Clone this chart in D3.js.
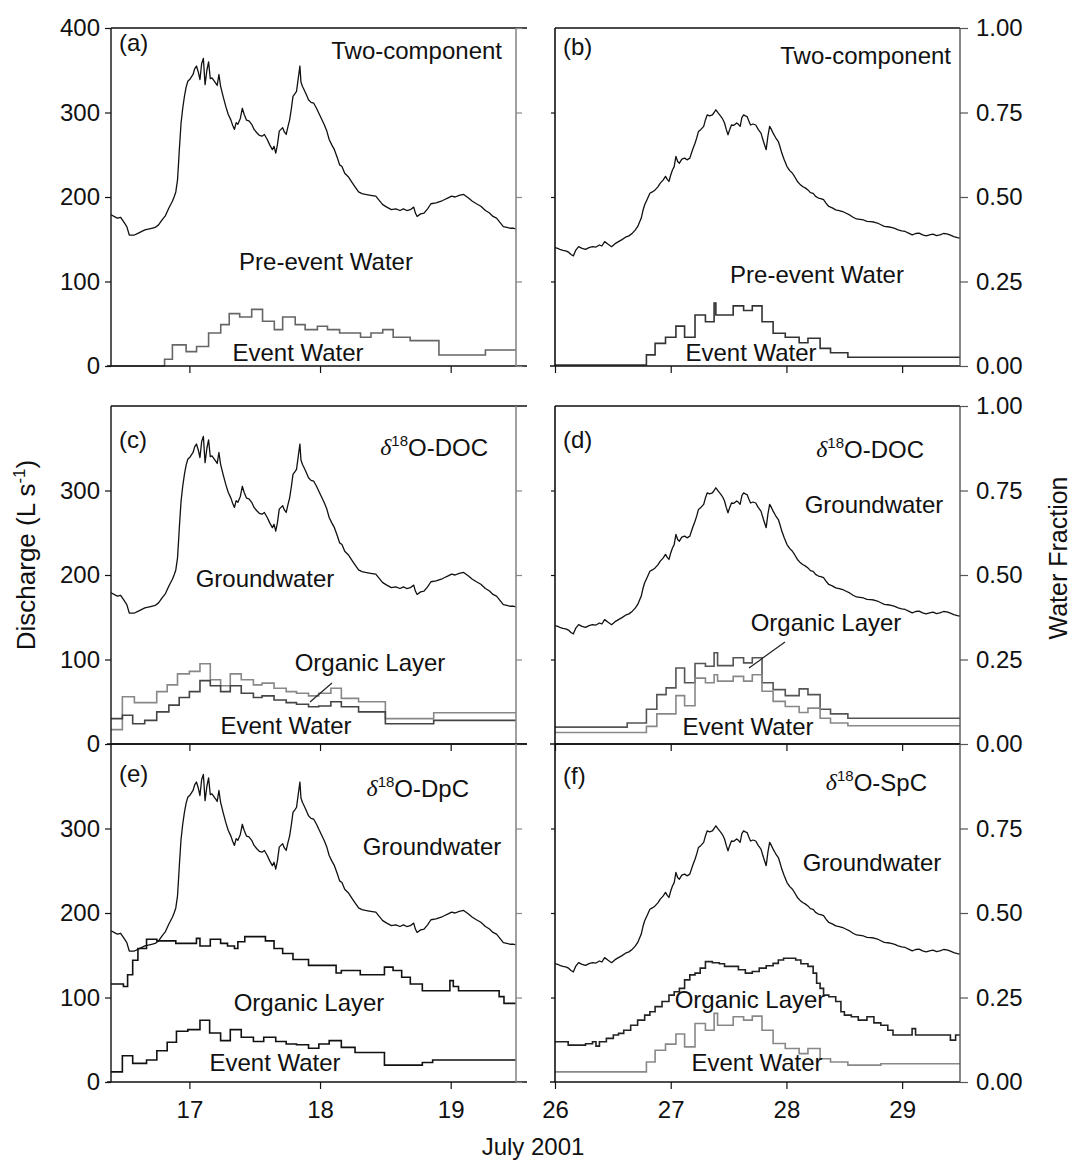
<!DOCTYPE html>
<html>
<head>
<meta charset="utf-8">
<script src="https://cdn.jsdelivr.net/npm/d3@7"></script>
<style>
  html, body { margin: 0; padding: 0; background: #fff; }
  svg { display: block; }
</style>
</head>
<body>
<svg id="fig" width="1074" height="1160"></svg>
<script>
// ---------------------------------------------------------------
// Hydrograph separations, July 2001 storm events
// ---------------------------------------------------------------

// Day-of-month ticks for the two events
const ticksJul17 = [17, 18, 19];
const ticksJul26 = [26, 27, 28, 29];
const dischargeTicks = [0, 100, 200, 300, 400];
const fractionTicks = [0, 0.25, 0.5, 0.75, 1];

// Event 1 (16-19 July): pre-event / groundwater discharge, L s-1  [day, value]
const groundwaterQ = [
  [16.400,179],[16.448,175],[16.474,176],[16.500,170],[16.521,165],[16.540,155],[16.579,155],[16.606,157],
  [16.632,159],[16.659,161],[16.685,162],[16.711,163],[16.738,164],[16.764,167],[16.791,173],[16.817,178],
  [16.843,187],[16.870,195],[16.883,200],[16.896,206],[16.909,220],[16.917,240],[16.923,256],[16.936,287],
  [16.949,305],[16.962,319],[16.975,330],[16.988,337],[17.007,340],[17.028,345],[17.041,352],[17.054,355],
  [17.068,348],[17.081,339],[17.094,358],[17.107,364],[17.120,333],[17.134,350],[17.147,360],[17.160,340],
  [17.173,341],[17.200,335],[17.213,332],[17.226,345],[17.239,331],[17.260,318],[17.279,307],[17.297,298],
  [17.318,291],[17.331,285],[17.345,280],[17.358,288],[17.371,286],[17.390,293],[17.405,305],[17.419,298],
  [17.437,291],[17.456,290],[17.477,286],[17.495,280],[17.516,276],[17.535,273],[17.556,272],[17.574,274],
  [17.596,268],[17.614,262],[17.635,256],[17.648,260],[17.661,252],[17.674,262],[17.688,278],[17.701,280],
  [17.714,282],[17.727,277],[17.741,274],[17.754,283],[17.767,291],[17.781,305],[17.793,319],[17.807,322],
  [17.820,325],[17.833,340],[17.846,355],[17.854,336],[17.865,331],[17.878,327],[17.893,322],[17.912,315],
  [17.931,312],[17.952,311],[17.973,305],[17.991,299],[18.010,293],[18.031,286],[18.052,278],[18.070,268],
  [18.089,262],[18.110,256],[18.131,247],[18.150,238],[18.168,236],[18.189,228],[18.216,224],[18.242,218],
  [18.268,212],[18.295,206],[18.321,204],[18.348,203],[18.387,202],[18.427,201],[18.453,196],[18.480,191],
  [18.511,188],[18.546,185],[18.580,186],[18.612,184],[18.638,186],[18.664,184],[18.691,185],[18.717,188],
  [18.730,181],[18.743,177],[18.770,180],[18.796,181],[18.823,186],[18.849,192],[18.888,193],[18.928,195],
  [18.954,197],[18.981,199],[19.007,201],[19.034,200],[19.065,202],[19.099,203],[19.134,199],[19.166,195],
  [19.197,192],[19.231,189],[19.266,184],[19.297,181],[19.324,177],[19.351,175],[19.377,170],[19.403,165],
  [19.430,164],[19.456,163],[19.483,163],[19.500,162]
];

// Event 1 step series (start of interval, value)
const eventQ2c = [
  [16.40,0],[16.81,8],[16.87,25],[16.975,17],[17.055,23],[17.147,39],[17.24,49],[17.305,62],[17.385,58],
  [17.477,67],[17.56,53],[17.65,43],[17.714,58],[17.81,49],[17.886,43],[17.98,47],[18.057,43],[18.15,39],
  [18.31,34],[18.39,39],[18.48,43],[18.56,34],[18.69,30],[18.91,13],[19.266,19],[19.50,19]
];
const organicQdoc = [
  [16.40,17],[16.487,56],[16.579,49],[16.75,62],[16.83,70],[16.909,83],[17.0,86],[17.081,95],[17.16,76],
  [17.239,69],[17.313,83],[17.397,76],[17.49,70],[17.556,72],[17.648,66],[17.741,62],[17.82,60],[17.912,57],
  [17.99,60],[18.083,66],[18.163,54],[18.295,50],[18.50,30],[18.87,37],[19.50,37]
];
const eventQdoc = [
  [16.40,30],[16.487,34],[16.566,24],[16.658,28],[16.75,38],[16.843,46],[16.922,55],[17.0,62],[17.081,75],
  [17.16,69],[17.239,62],[17.313,69],[17.397,60],[17.49,55],[17.556,57],[17.648,52],[17.741,49],[17.82,47],
  [17.912,44],[17.99,45],[18.083,50],[18.163,44],[18.295,38],[18.50,24],[18.87,28],[19.50,28]
];
const organicQdpc = [
  [16.40,116],[16.495,113],[16.527,127],[16.566,144],[16.606,158],[16.672,169],[16.751,167],[16.896,164],
  [17.054,170],[17.081,161],[17.16,169],[17.239,164],[17.292,161],[17.345,158],[17.371,166],[17.424,172],
  [17.582,167],[17.648,158],[17.714,152],[17.793,145],[17.912,138],[18.123,129],[18.163,132],[18.308,127],
  [18.493,136],[18.559,132],[18.625,124],[18.691,116],[18.783,108],[18.994,120],[19.02,113],[19.06,108],
  [19.371,101],[19.408,93],[19.50,93]
];
const eventQdpc = [
  [16.40,12],[16.487,31],[16.566,22],[16.672,26],[16.751,37],[16.83,47],[16.901,60],[16.988,62],[17.081,73],
  [17.155,58],[17.239,49],[17.313,62],[17.397,53],[17.49,48],[17.569,53],[17.661,48],[17.741,45],[17.82,44],
  [17.912,40],[17.991,45],[18.07,49],[18.163,41],[18.268,35],[18.493,20],[18.783,23],[18.862,26],[19.50,26]
];

// Event 2 (26-29 July): groundwater fraction  [day, fraction]
const groundwaterFrac = [
  [26.000,0.350],[26.024,0.348],[26.048,0.344],[26.069,0.342],[26.099,0.340],[26.120,0.336],[26.138,0.330],
  [26.159,0.326],[26.180,0.343],[26.204,0.353],[26.234,0.348],[26.264,0.345],[26.294,0.350],[26.324,0.353],
  [26.354,0.352],[26.384,0.358],[26.405,0.355],[26.429,0.368],[26.459,0.360],[26.489,0.353],[26.519,0.362],
  [26.549,0.368],[26.579,0.374],[26.609,0.381],[26.639,0.385],[26.669,0.393],[26.693,0.402],[26.715,0.413],
  [26.730,0.425],[26.745,0.437],[26.760,0.460],[26.775,0.477],[26.799,0.495],[26.820,0.511],[26.841,0.515],
  [26.865,0.521],[26.889,0.530],[26.910,0.541],[26.934,0.550],[26.955,0.561],[26.970,0.552],[26.985,0.546],
  [27.000,0.565],[27.015,0.580],[27.030,0.590],[27.045,0.620],[27.060,0.605],[27.075,0.600],[27.096,0.612],
  [27.120,0.615],[27.141,0.610],[27.165,0.615],[27.189,0.640],[27.210,0.659],[27.225,0.675],[27.240,0.694],
  [27.261,0.700],[27.285,0.709],[27.300,0.728],[27.315,0.743],[27.336,0.740],[27.360,0.743],[27.375,0.750],
  [27.390,0.758],[27.411,0.748],[27.435,0.738],[27.450,0.730],[27.465,0.719],[27.480,0.700],[27.495,0.684],
  [27.510,0.700],[27.525,0.713],[27.546,0.712],[27.570,0.719],[27.585,0.715],[27.600,0.709],[27.615,0.735],
  [27.630,0.743],[27.645,0.740],[27.660,0.738],[27.675,0.725],[27.690,0.713],[27.711,0.716],[27.735,0.713],
  [27.756,0.700],[27.780,0.689],[27.801,0.665],[27.825,0.640],[27.840,0.680],[27.855,0.709],[27.870,0.700],
  [27.885,0.689],[27.906,0.676],[27.930,0.664],[27.945,0.648],[27.960,0.630],[27.981,0.610],[28.005,0.590],
  [28.029,0.578],[28.050,0.571],[28.071,0.560],[28.095,0.546],[28.116,0.538],[28.140,0.531],[28.162,0.527],
  [28.186,0.521],[28.207,0.513],[28.231,0.511],[28.252,0.502],[28.276,0.497],[28.297,0.495],[28.321,0.492],
  [28.342,0.482],[28.366,0.472],[28.396,0.468],[28.426,0.462],[28.456,0.460],[28.486,0.457],[28.516,0.452],
  [28.546,0.447],[28.576,0.440],[28.606,0.435],[28.636,0.434],[28.666,0.432],[28.696,0.428],[28.726,0.427],
  [28.756,0.426],[28.786,0.423],[28.816,0.418],[28.846,0.413],[28.876,0.412],[28.906,0.410],[28.936,0.407],
  [28.966,0.403],[28.996,0.400],[29.026,0.398],[29.056,0.393],[29.087,0.388],[29.117,0.392],[29.147,0.393],
  [29.177,0.388],[29.207,0.385],[29.237,0.388],[29.267,0.390],[29.297,0.386],[29.327,0.388],[29.357,0.392],
  [29.387,0.391],[29.417,0.387],[29.447,0.383],[29.477,0.380],[29.500,0.378]
];

// Event 2 step series (start of interval, fraction)
const eventFrac2c = [
  [26.0,0.003],[26.79,0.033],[26.865,0.067],[26.955,0.085],[27.045,0.118],[27.12,0.085],[27.21,0.151],
  [27.30,0.131],[27.375,0.186],[27.39,0.151],[27.54,0.178],[27.63,0.164],[27.705,0.178],[27.789,0.131],
  [27.885,0.097],[27.99,0.085],[28.11,0.069],[28.186,0.082],[28.291,0.052],[28.381,0.039],[28.531,0.026],
  [29.5,0.026]
];
const organicFracDoc = [
  [26.0,0.050],[26.624,0.062],[26.79,0.103],[26.88,0.146],[26.96,0.166],[27.045,0.225],[27.12,0.181],
  [27.21,0.238],[27.30,0.230],[27.375,0.270],[27.405,0.232],[27.54,0.255],[27.63,0.240],[27.705,0.255],
  [27.789,0.181],[27.885,0.161],[27.99,0.143],[28.11,0.163],[28.186,0.146],[28.291,0.103],[28.381,0.089],
  [28.531,0.076],[29.5,0.076]
];
const eventFracDoc = [
  [26.0,0.034],[26.79,0.052],[26.88,0.089],[27.045,0.143],[27.12,0.113],[27.21,0.195],[27.30,0.181],
  [27.375,0.205],[27.405,0.186],[27.54,0.200],[27.63,0.186],[27.705,0.205],[27.789,0.156],[27.885,0.126],
  [27.99,0.111],[28.11,0.093],[28.186,0.106],[28.291,0.076],[28.381,0.062],[28.531,0.054],[29.5,0.054]
];
const organicFracSpc = [
  [26.0,0.119],[26.084,0.119],[26.114,0.109],[26.204,0.109],[26.264,0.113],[26.324,0.119],[26.354,0.106],
  [26.384,0.119],[26.444,0.129],[26.504,0.139],[26.549,0.144],[26.594,0.153],[26.654,0.168],[26.714,0.183],
  [26.775,0.198],[26.82,0.208],[26.865,0.223],[26.925,0.238],[26.985,0.257],[27.03,0.267],[27.075,0.277],
  [27.12,0.302],[27.165,0.317],[27.21,0.322],[27.255,0.337],[27.30,0.356],[27.36,0.353],[27.42,0.350],
  [27.465,0.342],[27.525,0.342],[27.585,0.332],[27.645,0.322],[27.705,0.327],[27.765,0.337],[27.825,0.344],
  [27.885,0.351],[27.93,0.361],[27.975,0.366],[28.035,0.366],[28.08,0.361],[28.125,0.350],[28.186,0.342],
  [28.231,0.322],[28.261,0.292],[28.291,0.277],[28.321,0.257],[28.366,0.252],[28.426,0.238],[28.471,0.208],
  [28.501,0.198],[28.561,0.193],[28.621,0.183],[28.696,0.193],[28.756,0.175],[28.816,0.168],[28.876,0.153],
  [28.921,0.139],[29.071,0.139],[29.086,0.158],[29.116,0.139],[29.401,0.139],[29.417,0.124],[29.462,0.139],
  [29.5,0.139]
];
const eventFracSpc = [
  [26.0,0.030],[26.79,0.059],[26.865,0.094],[26.955,0.112],[27.045,0.142],[27.12,0.104],[27.21,0.173],
  [27.30,0.153],[27.375,0.203],[27.405,0.168],[27.54,0.193],[27.63,0.183],[27.705,0.195],[27.789,0.153],
  [27.885,0.114],[27.99,0.099],[28.11,0.084],[28.186,0.099],[28.291,0.069],[28.381,0.059],[28.531,0.050],
  [28.816,0.054],[29.5,0.054]
];

// ---------------------------------------------------------------
const FONT = "'Liberation Sans', Arial, Helvetica, sans-serif";
const FS = 24;
const svg = d3.select("#fig");
svg.append("rect").attr("width", 1074).attr("height", 1160).attr("fill", "#fff");

const cols = { left: [111, 516], right: [555, 960] };
const rows = [[28, 366], [406, 744], [744, 1082]];

const xLeft = d3.scaleLinear().domain([16.4, 19.5]).range(cols.left);
const xRight = d3.scaleLinear().domain([26, 29.5]).range(cols.right);

function styleAxis(g, color) {
  g.select(".domain").remove();
  g.selectAll(".tick line").attr("stroke", color || "#111").attr("stroke-width", 1.2);
  g.selectAll(".tick text").attr("font-family", FONT).attr("font-size", FS).attr("fill", "#111");
}

function txt(x, y, s, anchor) {
  return svg.append("text").attr("x", x).attr("y", y).attr("dy", "0.35em")
    .attr("text-anchor", anchor || "start").attr("font-family", FONT)
    .attr("font-size", FS).attr("fill", "#111").text(s);
}

function deltaLabel(xEnd, y, suffix) {
  const t = svg.append("text").attr("x", xEnd).attr("y", y).attr("dy", "0.35em")
    .attr("text-anchor", "end").attr("font-family", FONT).attr("font-size", FS).attr("fill", "#111");
  t.append("tspan").attr("font-family", "'Liberation Serif', 'Times New Roman', serif")
    .attr("font-style", "italic").text("\u03B4");
  t.append("tspan").attr("font-size", 15).attr("dy", "-0.6em").text("18");
  t.append("tspan").attr("dy", "0.38em").text("O-" + suffix);
}

function drawPanel(cfg) {
  const [x0, x1] = cfg.side === "left" ? cols.left : cols.right;
  const [top, bottom] = rows[cfg.row];
  const x = cfg.side === "left" ? xLeft : xRight;
  const y = d3.scaleLinear().domain(cfg.side === "left" ? [0, 400] : [0, 1]).range([bottom, top]);
  const g = svg.append("g");

  // series
  const line = d3.line().x(d => x(d[0])).y(d => y(d[1]));
  const stepLine = d3.line().x(d => x(d[0])).y(d => y(d[1])).curve(d3.curveStepAfter);
  cfg.steps.forEach(s => {
    g.append("path").attr("d", stepLine(s.data)).attr("fill", "none")
      .attr("stroke", s.color).attr("stroke-width", 1.6).attr("stroke-linejoin", "miter");
  });
  g.append("path").attr("d", line(cfg.main)).attr("fill", "none")
    .attr("stroke", "#111").attr("stroke-width", 1.3).attr("stroke-linejoin", "round");

  // frame
  const frame = svg.append("g");
  if (cfg.side === "left") {
    frame.append("line").attr("x1", x0).attr("x2", x1 + 11).attr("y1", top).attr("y2", top)
      .attr("stroke", "#111").attr("stroke-width", 1.4);
    frame.append("line").attr("x1", x0 - 4).attr("x2", x1 + 11).attr("y1", bottom).attr("y2", bottom)
      .attr("stroke", "#111").attr("stroke-width", 1.4);
    frame.append("line").attr("x1", x0).attr("x2", x0).attr("y1", top).attr("y2", bottom)
      .attr("stroke", "#111").attr("stroke-width", 1.4);
    frame.append("line").attr("x1", x1).attr("x2", x1).attr("y1", top).attr("y2", bottom)
      .attr("stroke", "#888").attr("stroke-width", 1.6);
    // left discharge axis
    const ax = svg.append("g").attr("transform", `translate(${x0},0)`)
      .call(d3.axisLeft(y).tickValues(cfg.yLabels).tickSize(6).tickPadding(5).tickFormat(d3.format("d")));
    styleAxis(ax);
    const axr = svg.append("g").attr("transform", `translate(${x1},0)`)
      .call(d3.axisRight(y).tickValues(cfg.yLabels).tickSize(6).tickFormat(""));
    styleAxis(axr, "#888");
  } else {
    frame.append("line").attr("x1", x0).attr("x2", x1).attr("y1", top).attr("y2", top)
      .attr("stroke", "#111").attr("stroke-width", 1.4);
    frame.append("line").attr("x1", x0 - 5).attr("x2", x1).attr("y1", bottom).attr("y2", bottom)
      .attr("stroke", "#111").attr("stroke-width", 1.4);
    frame.append("line").attr("x1", x0).attr("x2", x0).attr("y1", top).attr("y2", bottom)
      .attr("stroke", "#111").attr("stroke-width", 1.6);
    frame.append("line").attr("x1", x1).attr("x2", x1).attr("y1", top).attr("y2", bottom)
      .attr("stroke", "#555").attr("stroke-width", 1.4);
    const axl = svg.append("g").attr("transform", `translate(${x0},0)`)
      .call(d3.axisLeft(y).tickValues([0.25, 0.5, 0.75]).tickSize(4).tickFormat(""));
    styleAxis(axl);
    const ax = svg.append("g").attr("transform", `translate(${x1},0)`)
      .call(d3.axisRight(y).tickValues(cfg.yLabels).tickSize(8).tickPadding(8).tickFormat(d3.format(".2f")));
    styleAxis(ax, "#555");
  }
  // bottom time axis
  const bx = svg.append("g").attr("transform", `translate(0,${bottom})`)
    .call(d3.axisBottom(x).tickValues(cfg.side === "left" ? ticksJul17 : ticksJul26)
      .tickSize(7).tickPadding(12).tickFormat(cfg.row === 2 ? d3.format("d") : ""));
  styleAxis(bx);

  // panel annotations
  txt(x0 + 8, top + cfg.tagDy, cfg.tag);
  cfg.notes.forEach(n => txt(n[0], n[1], n[2], "middle"));
  if (cfg.title) txt(cfg.title[0], cfg.title[1], cfg.title[2], "end");
  if (cfg.delta) deltaLabel(cfg.delta[0], cfg.delta[1], cfg.delta[2]);
  if (cfg.pointer) {
    svg.append("line").attr("x1", cfg.pointer[0]).attr("y1", cfg.pointer[1])
      .attr("x2", cfg.pointer[2]).attr("y2", cfg.pointer[3]).attr("stroke", "#222").attr("stroke-width", 1.2);
  }
}

drawPanel({ side: "left", row: 0, tag: "(a)", tagDy: 15, main: groundwaterQ,
  yLabels: [0, 100, 200, 300, 400],
  steps: [{ data: eventQ2c, color: "#666" }],
  title: [502, 51, "Two-component"],
  notes: [[326, 262, "Pre-event Water"], [298, 353, "Event Water"]] });

drawPanel({ side: "right", row: 0, tag: "(b)", tagDy: 19, main: groundwaterFrac,
  yLabels: fractionTicks,
  steps: [{ data: eventFrac2c, color: "#333" }],
  title: [951, 56, "Two-component"],
  notes: [[817, 275, "Pre-event Water"], [751, 353, "Event Water"]] });

drawPanel({ side: "left", row: 1, tag: "(c)", tagDy: 34, main: groundwaterQ,
  yLabels: [0, 100, 200, 300],
  steps: [{ data: organicQdoc, color: "#888" }, { data: eventQdoc, color: "#444" }],
  delta: [488, 447, "DOC"],
  notes: [[265, 579, "Groundwater"], [370, 663, "Organic Layer"], [286, 726, "Event Water"]],
  pointer: [332, 683, 310, 702] });

drawPanel({ side: "right", row: 1, tag: "(d)", tagDy: 34, main: groundwaterFrac,
  yLabels: fractionTicks,
  steps: [{ data: organicFracDoc, color: "#555" }, { data: eventFracDoc, color: "#888" }],
  delta: [924, 449, "DOC"],
  notes: [[874, 505, "Groundwater"], [826, 623, "Organic Layer"], [748, 727, "Event Water"]],
  pointer: [785, 642, 749, 668] });

drawPanel({ side: "left", row: 2, tag: "(e)", tagDy: 30, main: groundwaterQ,
  yLabels: [0, 100, 200, 300],
  steps: [{ data: organicQdpc, color: "#111" }, { data: eventQdpc, color: "#111" }],
  delta: [469, 788, "DpC"],
  notes: [[432, 847, "Groundwater"], [309, 1003, "Organic Layer"], [275, 1063, "Event Water"]] });

drawPanel({ side: "right", row: 2, tag: "(f)", tagDy: 32, main: groundwaterFrac,
  yLabels: [0, 0.25, 0.5, 0.75],
  steps: [{ data: organicFracSpc, color: "#222" }, { data: eventFracSpc, color: "#888" }],
  delta: [927, 782, "SpC"],
  notes: [[872, 863, "Groundwater"], [750, 1000, "Organic Layer"], [757, 1063, "Event Water"]] });

// axis titles
const yt = svg.append("text").attr("transform", "translate(35,555) rotate(-90)")
  .attr("text-anchor", "middle").attr("font-family", FONT).attr("font-size", 26).attr("fill", "#111");
yt.append("tspan").text("Discharge (L s");
yt.append("tspan").attr("font-size", 17).attr("dy", "-0.6em").text("-1");
yt.append("tspan").attr("dy", "0.4em").text(")");

svg.append("text").attr("transform", "translate(1067,558) rotate(-90)")
  .attr("text-anchor", "middle").attr("font-family", FONT).attr("font-size", 25).attr("fill", "#111")
  .text("Water Fraction");

svg.append("text").attr("x", 533).attr("y", 1155).attr("text-anchor", "middle")
  .attr("font-family", FONT).attr("font-size", FS).attr("fill", "#111").text("July 2001");
</script>
</body>
</html>
